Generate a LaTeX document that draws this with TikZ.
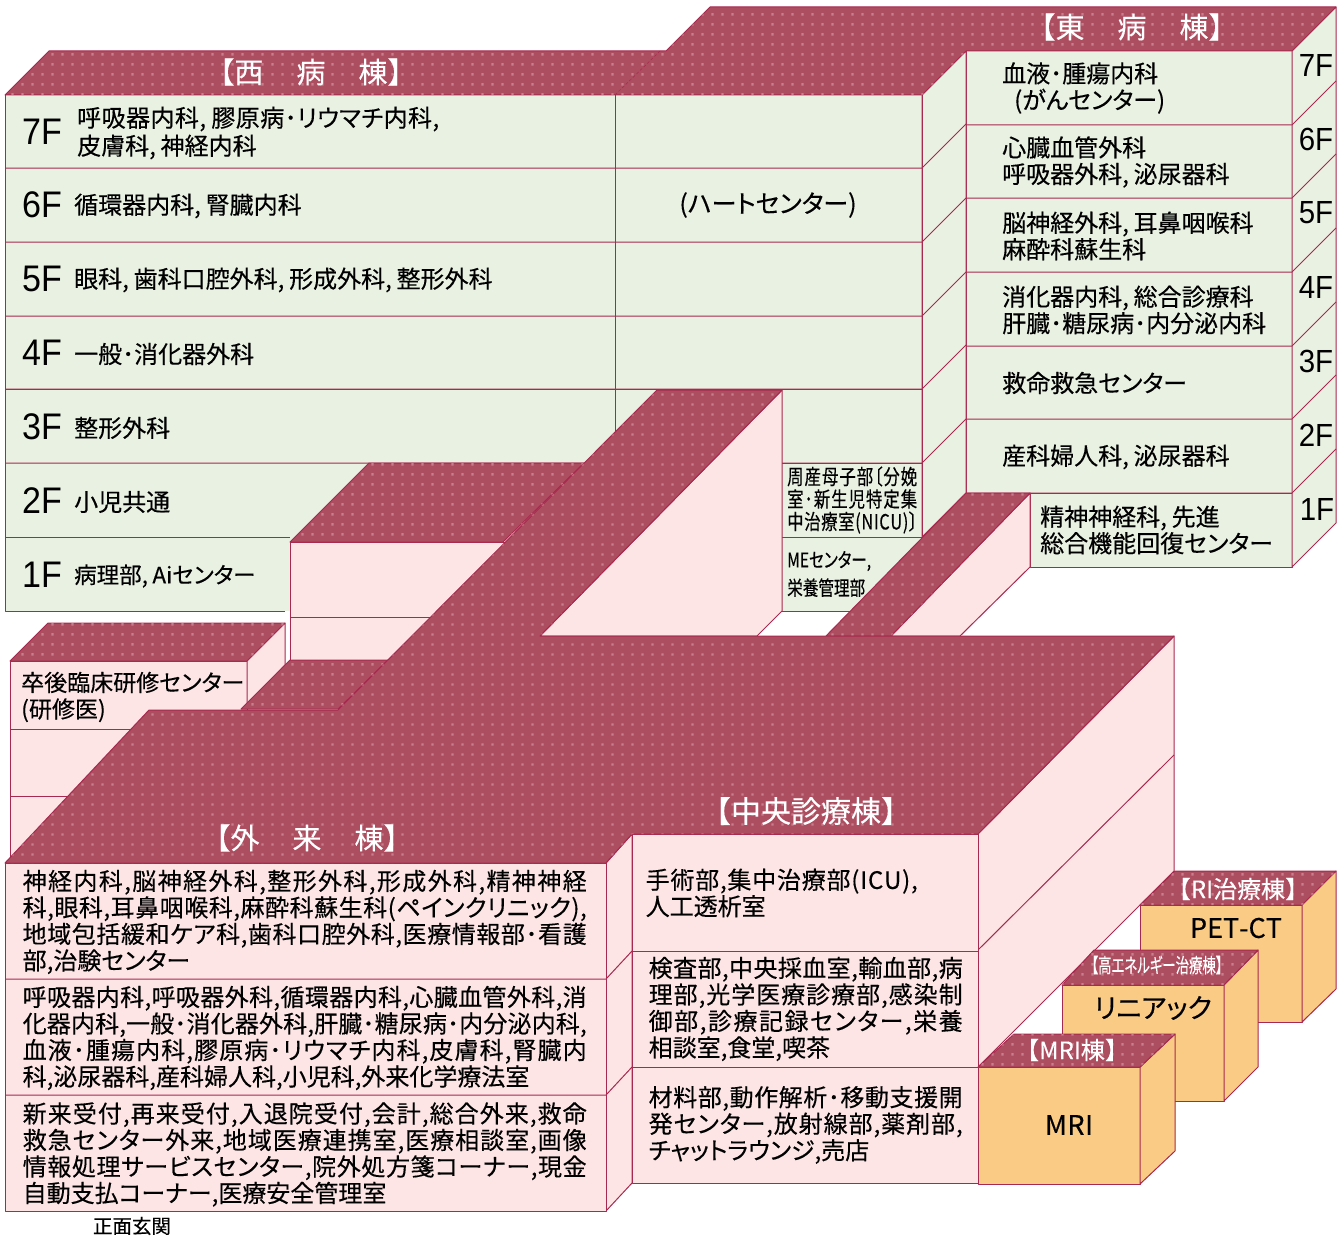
\documentclass[tikz,border=0pt]{standalone}
\usepackage{fontspec}
\usetikzlibrary{patterns,positioning}
\setmainfont[FakeBold=0.3,RawFeature=+palt]{Noto Sans CJK JP}
\newfontfamily\slimcjk[FakeStretch=0.78,FakeBold=0.25,RawFeature=+palt]{Noto Sans CJK JP}
\newfontfamily\titlecjk[FakeBold=0.2]{Noto Sans CJK JP}
\newfontfamily\latinsf[FakeStretch=0.92]{Liberation Sans}
\definecolor{wallgreen}{HTML}{E8F1E2}
\definecolor{wallpink}{HTML}{FDE5E5}
\definecolor{wallorange}{HTML}{FACB84}
\definecolor{roofred}{HTML}{AD4D60}
\definecolor{dotpink}{HTML}{C67F8E}
\definecolor{edgered}{HTML}{A8294F}
\newcommand{\cm}{,\kern.2em}
\newcommand{\dt}{･}
% one line of text spread over a given width
\def\sprd#1#2\relax{#1\sprdrest#2\relax}
\def\sprdrest#1{\ifx#1\relax\else\hskip 0pt plus 1fil #1\expandafter\sprdrest\fi}
\newcommand{\fitw}[2]{\makebox[#1][s]{\sprd#2\relax}}
\newcommand{\ol}[1]{\fitw{564pt}{#1}}
\newcommand{\cl}[1]{\fitw{314pt}{#1}}
\pgfdeclarepatternformonly{roofdots}{\pgfqpoint{0pt}{0pt}}{\pgfqpoint{10pt}{10pt}}{\pgfqpoint{10pt}{10pt}}{
  \pgfpathrectangle{\pgfqpoint{1.4pt}{0.4pt}}{\pgfqpoint{2.6pt}{2.6pt}}
  \pgfusepath{fill}
}
\tikzset{
  edge/.style={draw=edgered,line width=1pt,line join=round},
  green/.style={edge,fill=wallgreen},
  pink/.style={edge,fill=wallpink},
  orange/.style={edge,fill=wallorange},
  roof/.style={edge,fill=roofred,postaction={pattern=roofdots,pattern color=dotpink}},
  floor/.style={font=\latinsf\fontsize{37}{37}\selectfont,inner sep=0pt,anchor=east},
  tag/.style={font=\latinsf\fontsize{32}{32}\selectfont,inner sep=0pt},
  ward/.style={font=\fontsize{24}{28}\selectfont,inner sep=0pt,anchor=west,align=left,yshift=-1pt},
  wing/.style={font=\fontsize{24}{26.5}\selectfont,inner sep=0pt,anchor=west,align=left},
  wide/.style={font=\fontsize{24}{26.5}\selectfont,inner sep=0pt,anchor=west,align=left},
  slim/.style={font=\slimcjk\fontsize{21}{22.5}\selectfont,inner sep=0pt,anchor=west,align=left},
  title/.style={text=white,inner sep=0pt,font=\titlecjk\fontsize{29}{29}\selectfont},
}
\begin{document}
\begin{tikzpicture}[x=1pt,y=-1pt]
  \useasboundingbox (0,0) rectangle (1343,1236);
  % east wing
  \filldraw[green] (966,51) rectangle (1292,493);
  \filldraw[green] (1030,493) rectangle (1292,567);
  \filldraw[green] (1292,51) -- (1336,7) -- (1336,523) -- (1292,567) -- cycle;
  \foreach \y in {125,198,272,346,419,493} {
    \draw[edge] (966,\y) -- (1292,\y) -- ++(44,-44);
  }
  % west wing
  \filldraw[green] (5,95) rectangle (922,389);
  \filldraw[green] (5,389) rectangle (615,611);
  \filldraw[green] (615,389) rectangle (922,611);
  \filldraw[green] (922,95) -- (966,51) -- (966,493) -- (922,537) -- cycle;
  \foreach \y in {168,242,316,389,463} {
    \draw[edge] (5,\y) -- (922,\y) -- ++(44,-44);
  }
  \draw[edge] (5,537) -- (290,537);
  \draw[edge] (782,463) -- (922,463);
  \draw[edge] (782,537) -- (922,537);
  \draw[edge] (615,95) -- (615,463);
  \draw[edge] (922,95) -- (922,537);
  % roof of both wings
  \filldraw[roof] (49,51) -- (666,51) -- (710,7) -- (1336,7) -- (1292,51) -- (966,51) -- (922,95) -- (5,95) -- cycle;
  \draw[edge,densely dashed,line width=.5pt] (615,95) -- (660,51);
  % link to the east wing
  \filldraw[pink] (1030,493) -- (1030,567) -- (960,636) -- (891,636) -- cycle;
  \filldraw[roof] (966,493) -- (1030,493) -- (891,636) -- (826,636) -- cycle;
  % block behind the outpatient wing
  \fill[white] (285,611) rectangle (290,660);
  \filldraw[pink] (290,542) rectangle (510,660);
  \draw[edge] (290,617) -- (440,617);
  \filldraw[roof] (290,542) -- (369,463) -- (584,463) -- (503,542) -- cycle;
  % small block on the left
  \filldraw[pink] (10,661) rectangle (247,863);
  \filldraw[pink] (247,661) -- (285,623) -- (285,665) -- (247,705) -- cycle;
  \filldraw[roof] (10,661) -- (48,623) -- (285,623) -- (247,661) -- cycle;
  \draw[edge] (10,729) -- (247,729);
  \draw[edge] (10,796) -- (247,796);
  \filldraw[roof] (290,660) -- (388,660) -- (338,709) -- (241,709) -- cycle;
  % bridge wall
  \filldraw[pink] (782,390) -- (782,611) -- (757,636) -- (540,636) -- cycle;
  % central and outpatient roof
  \filldraw[pink] (978,834) -- (1174,636) -- (1174,871) -- (978,1067) -- cycle;
  \draw[edge] (978,950) -- (1174,755);
  \filldraw[pink] (606,863) -- (632,834) -- (632,1183) -- (606,1211) -- cycle;
  \filldraw[pink] (5,863) rectangle (606,1211);
  \filldraw[pink] (632,834) rectangle (978,1183);
  \foreach \y in {979,1095} {
    \draw[edge] (5,\y) -- (606,\y) -- ++(26,-28);
  }
  \draw[edge] (632,951) -- (978,951);
  \draw[edge] (632,1067) -- (978,1067);
  \filldraw[roof] (5,863) -- (149,710) -- (338,710) -- (657,390) -- (782,390) -- (540,636) -- (1174,636) -- (978,834) -- (632,834) -- (606,863) -- cycle;
  % RI
  \filldraw[orange] (1140,905) rectangle (1302,1022);
  \filldraw[orange] (1302,905) -- (1336,871) -- (1336,989) -- (1302,1022) -- cycle;
  \filldraw[roof] (1140,905) -- (1175,871) -- (1336,871) -- (1302,905) -- cycle;
  % linac
  \filldraw[orange] (1062,985) rectangle (1224,1101);
  \filldraw[orange] (1224,985) -- (1258,950) -- (1258,1067) -- (1224,1101) -- cycle;
  \filldraw[roof] (1062,985) -- (1094,950) -- (1258,950) -- (1224,985) -- cycle;
  % MRI
  \filldraw[orange] (978,1067) rectangle (1140,1184);
  \filldraw[orange] (1140,1067) -- (1175,1034) -- (1175,1151) -- (1140,1184) -- cycle;
  \filldraw[roof] (978,1067) -- (1014,1034) -- (1175,1034) -- (1140,1067) -- cycle;
  % titles
  \node[title] (westtitle) at (311,72) {【西\hspace{33pt}病\hspace{33pt}棟】};
  \node[title] (easttitle) at (1132,27) {【東\hspace{33pt}病\hspace{33pt}棟】};
  \node[title] (outtitle) at (307,838) {【外\hspace{33pt}来\hspace{33pt}棟】};
  \node[title,font=\titlecjk\fontsize{30}{30}\selectfont] (centertitle) at (806,811) {【中央診療棟】};
  \node[title,font=\titlecjk\fontsize{24}{24}\selectfont] (rititle) at (1238,889) {【RI治療棟】};
  \node[title,font=\slimcjk\fontsize{20}{20}\selectfont] (linactitle) at (1157,965) {\scalebox{.86}[1]{【高エネルギー治療棟】}};
  \node[title,font=\titlecjk\fontsize{24}{24}\selectfont] (mrititle) at (1072,1050) {【MRI棟】};
  % west wing floors
  \node[floor] (w7) at (62,132) {7F};
  \node[floor] (w6) at (62,205) {6F};
  \node[floor] (w5) at (62,279) {5F};
  \node[floor] (w4) at (62,353) {4F};
  \node[floor] (w3) at (62,427) {3F};
  \node[floor] (w2) at (62,501) {2F};
  \node[floor] (w1) at (62,575) {1F};
  \node[ward,right=15pt of w7] (wt7) {\fitw{362pt}{呼吸器内科\cm 膠原病\dt リウマチ内科,}\\皮膚科\cm 神経内科};
  \node[ward,right=12pt of w6] (wt6) {循環器内科\cm 腎臓内科};
  \node[ward,right=12pt of w5] (wt5) {眼科\cm 歯科口腔外科\cm 形成外科\cm 整形外科};
  \node[ward,right=12pt of w4] (wt4) {一般\dt 消化器外科};
  \node[ward,right=12pt of w3] (wt3) {整形外科};
  \node[ward,right=12pt of w2] (wt2) {小児共通};
  \node[ward,right=12pt of w1,font=\fontsize{22.5}{28}\selectfont] (wt1) {病理部\cm Aiセンター};
  \node[ward,anchor=center,font=\fontsize{25}{28}\selectfont] (heart) at (768,204) {(ハートセンター)};
  \node[slim] (perinatal) at (787,500) {\fitw{130pt}{周産母子部〔分娩}\\\fitw{130pt}{室\dt 新生児特定集}\\\fitw{130pt}{中治療室(NICU)〕}};
  \node[slim,font=\slimcjk\fontsize{20}{28}\selectfont] (me) at (787,574) {MEセンター,\\栄養管理部};
  % east wing floors
  \node[wing] (et7) at (1002,88) {血液\dt 腫瘍内科\\\hspace*{12pt}(がんセンター)};
  \node[wing] (et6) at (1002,162) {心臓血管外科\\呼吸器外科\cm 泌尿器科};
  \node[wing] (et5) at (1002,236) {脳神経外科\cm 耳鼻咽喉科\\麻酔科蘇生科};
  \node[wing] (et4) at (1002,310) {消化器内科\cm 総合診療科\\肝臓\dt 糖尿病\dt 内分泌内科};
  \node[wing] (et3) at (1002,383) {救命救急センター};
  \node[wing] (et2) at (1002,457) {産科婦人科\cm 泌尿器科};
  \node[wing] (et1) at (1040,530) {精神神経科\cm 先進\\総合機能回復センター};
  \node[tag] (e7) at (1316,65) {7F};
  \node[tag] (e6) at (1316,139) {6F};
  \node[tag] (e5) at (1316,213) {5F};
  \node[tag] (e4) at (1316,287) {4F};
  \node[tag] (e3) at (1316,361) {3F};
  \node[tag] (e2) at (1316,435) {2F};
  \node[tag] (e1) at (1317,509) {1F};
  % left block
  \node[wing,font=\fontsize{23}{26.5}\selectfont] (trainee) at (21,697) {卒後臨床研修センター\\(研修医)};
  % outpatient wing
  \node[wide] (out3) at (22.5,922) {\ol{神経内科,脳神経外科,整形外科,形成外科,精神神経}\\\ol{科,眼科,耳鼻咽喉科,麻酔科蘇生科(ペインクリニック),}\\\ol{地域包括緩和ケア科,歯科口腔外科,医療情報部\dt 看護}\\部,治験センター};
  \node[wide] (out2) at (22.5,1038) {\ol{呼吸器内科,呼吸器外科,循環器内科,心臓血管外科,消}\\\ol{化器内科,一般\dt 消化器外科,肝臓\dt 糖尿病\dt 内分泌内科,}\\\ol{血液\dt 腫瘍内科,膠原病\dt リウマチ内科,皮膚科,腎臓内}\\科,泌尿器科,産科婦人科,小児科,外来化学療法室};
  \node[wide] (out1) at (22.5,1154.5) {\ol{新来受付,再来受付,入退院受付,会計,総合外来,救命}\\\ol{救急センター外来,地域医療連携室,医療相談室,画像}\\\ol{情報処理サービスセンター,院外処方箋コーナー,現金}\\自動支払コーナー,医療安全管理室};
  % central wing
  \node[wing] (cen3) at (645.5,893) {\fitw{272pt}{手術部,集中治療部(ICU),}\\人工透析室};
  \node[wide] (cen2) at (648.5,1009) {\cl{検査部,中央採血室,輸血部,病}\\\cl{理部,光学医療診療部,感染制}\\\cl{御部,診療記録センター,栄養}\\相談室,食堂,喫茶};
  \node[wide] (cen1) at (648.5,1125) {\cl{材料部,動作解析\dt 移動支援開}\\\cl{発センター,放射線部,薬剤部,}\\チャットラウンジ,売店};
  % annexes
  \node[wing,anchor=center,font=\fontsize{27}{27}\selectfont] (pet) at (1235,928) {\fitw{90pt}{PET-CT}};
  \node[wing,anchor=center,font=\fontsize{27}{27}\selectfont] (linac) at (1153,1008) {リニアック};
  \node[wing,anchor=center,font=\fontsize{27}{27}\selectfont] (mri) at (1069,1125) {\fitw{48pt}{MRI}};
  \node[wing,anchor=center,font=\fontsize{19.5}{20}\selectfont] (entrance) at (132,1226) {正面玄関};
\end{tikzpicture}
\end{document}
